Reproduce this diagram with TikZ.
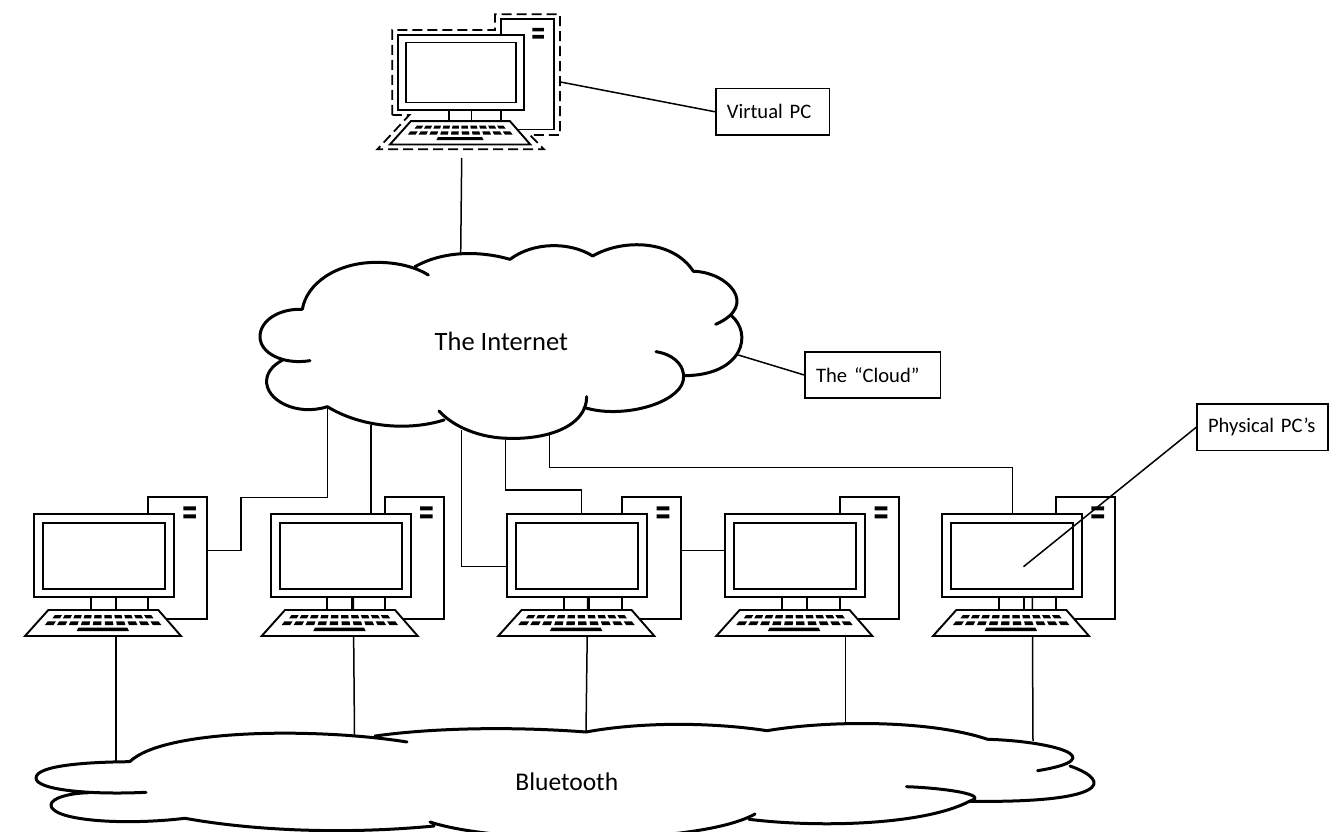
\documentclass[tikz,border=0pt]{standalone}
\usepackage{fontspec}
\setmainfont{Carlito}
\tikzset{
  wire/.style={line width=1.5pt,line join=miter},
  cloudline/.style={line width=3pt,line cap=round,line join=round},
  pcline/.style={line width=1.9pt,line join=miter},
  labelbox/.style={draw,line width=1.6pt,align=left,inner xsep=11pt,inner ysep=0pt,minimum height=46.5pt,font=\fontsize{20.6}{24}\selectfont},
  cloudtext/.style={anchor=base,inner sep=0pt,font=\fontsize{25.5}{30}\selectfont}
}
\newcommand{\pcicon}[3]{%
  \begin{scope}[shift={(#1,#2)},x=#3pt,y=-#3pt]
    \draw[pcline] (415,390) -- (415,50) -- (592,50) -- (592,418) -- (470,418);
    \fill (520,79) rectangle (558,91) (520,103) rectangle (558,115);
    \draw[pcline,fill=white] (72,103) rectangle (492,352);
    \draw[pcline] (99,128) rectangle (465,328);
    \draw[pcline] (242,352) -- (242,390) (317,352) -- (317,390) (415,352) -- (415,390);
    \draw[pcline,fill=white] (115,390) -- (445,390) -- (513,468) -- (45,468) -- cycle;
    \foreach \i in {0,...,9}{
      \pgfmathsetmacro\ua{-.81+\i*.1667}
      \pgfmathsetmacro\ub{\ua+.12}
      \pgfmathsetmacro\uc{-.85+\i*.1755}
      \pgfmathsetmacro\ud{\uc+.125}
      \fill (279+\ua*178.3,405) -- (279+\ub*178.3,405) -- (279+\ub*187.1,415) -- (279+\ua*187.1,415) -- cycle;
      \fill (279+\uc*195,424) -- (279+\ud*195,424) -- (279+\ud*204.8,435) -- (279+\uc*204.8,435) -- cycle;
    }
    \fill (205,443) -- (352,443) -- (357,453) -- (200,453) -- cycle;
  \end{scope}}
\begin{document}
\begin{tikzpicture}[x=1pt,y=-1pt]
\fill[white] (0,0) rectangle (1342,832);
\useasboundingbox (0,0) rectangle (1342,832);
\clip (0,0) rectangle (1342,832);

% connector end points
\coordinate (vpc-bottom) at (461.7,158);
\coordinate (vpc-side) at (559,81.7);
\coordinate (inet-top) at (460.7,253);
\coordinate (inet-side) at (738.3,355);
\coordinate (inet-a) at (327.3,406.7);
\coordinate (inet-b) at (371,425);
\coordinate (inet-c) at (461.5,430);
\coordinate (inet-d) at (505.7,439);
\coordinate (inet-e) at (549.3,434);
\coordinate (j1) at (241,497.7);
\coordinate (pc1-r) at (207,550.7);
\coordinate (pc2-t) at (371,514);
\coordinate (pc3-l) at (507.3,566.7);
\coordinate (j3) at (581.7,490);
\coordinate (pc3-t) at (581.7,514);
\coordinate (j5) at (1012.3,467.3);
\coordinate (pc5-t) at (1012.3,514);
\coordinate (pc3-r) at (680.7,550.7);
\coordinate (pc4-l) at (725.3,550.7);
\coordinate (pc1-b) at (116,597);
\coordinate (bt1) at (116,761.5);
\coordinate (pc2-b) at (353.3,597);
\coordinate (bt2) at (354.5,734.5);
\coordinate (pc3-b) at (587.7,597);
\coordinate (bt3) at (586,732);
\coordinate (pc4-b) at (845.5,636);
\coordinate (bt4) at (845.5,723.5);
\coordinate (pc5-b) at (1032.3,597);
\coordinate (bt5) at (1033,741);
\coordinate (phys-end) at (1023.5,566.7);

% labels
\node[labelbox,text width=91.5pt] (vpclabel) at (772.7,111.8) {Virtual PC};
\node[labelbox,text width=113.5pt] (cloudlabel) at (872.8,375) {The “Cloud”};
\node[labelbox,text width=109pt] (physlabel) at (1262.5,427.3) {Physical PC’s};
\node[cloudtext,font=\fontsize{26.5}{30}\selectfont] (inettext) at (501.3,350) {The Internet};
\node[cloudtext] (bttext) at (566.8,790) {Bluetooth};

% connectors
\draw[wire] (vpc-bottom) -- (inet-top);
\draw[wire] (vpc-side) -- (vpclabel.west);
\draw[wire] (inet-side) -- (cloudlabel.west);
\draw[wire] (inet-a) |- (j1) |- (pc1-r);
\draw[wire] (inet-b) -- (pc2-t);
\draw[wire] (inet-c) |- (pc3-l);
\draw[wire] (inet-d) |- (j3) -- (pc3-t);
\draw[wire] (inet-e) |- (j5) -- (pc5-t);
\draw[wire] (pc3-r) -- (pc4-l);
\draw[wire] (pc1-b) -- (bt1);
\draw[wire] (pc2-b) -- (bt2);
\draw[wire] (pc3-b) -- (bt3);
\draw[wire] (pc4-b) -- (bt4);
\draw[wire] (pc5-b) -- (bt5);

% Internet cloud
\begin{scope}[shift={(240,230)},x=0.33333pt,y=-0.33333pt]
\draw[cloudline]
 (187,238) .. controls (200,160) and (290,97) .. (410,97) .. controls (470,97) and (525,110) .. (565,135)
 (525,110) .. controls (610,62) and (720,62) .. (810,88)
 (810,88) .. controls (880,35) and (990,35) .. (1058,78)
 (1058,78) .. controls (1150,25) and (1300,30) .. (1360,124)
 (1360,124) .. controls (1460,125) and (1560,225) .. (1427,283)
 (1472,255) .. controls (1540,310) and (1510,435) .. (1335,437)
 (1248,365) .. controls (1315,375) and (1345,425) .. (1325,465) .. controls (1290,530) and (1130,565) .. (1032,532)
 (1040,500) .. controls (1040,590) and (920,628) .. (810,625) .. controls (720,625) and (640,590) .. (597,543)
 (612,570) .. controls (500,605) and (360,590) .. (262,530)
 (262,530) .. controls (170,560) and (75,510) .. (80,450) .. controls (82,425) and (100,405) .. (128,390)
 (210,392) .. controls (130,405) and (60,370) .. (60,320) .. controls (60,270) and (120,235) .. (187,238);
\end{scope}

% Bluetooth cloud
\draw[cloudline]
 (129.7,761.7) .. controls (165,728) and (320,728) .. (407,742)
 (375,736) .. controls (440,727) and (520,727) .. (586,732)
 (586,732) .. controls (640,722) and (710,722) .. (767,730.7)
 (767,730.7) .. controls (830,720) and (930,720) .. (987.6,739.3)
 (987.6,739.3) .. controls (1050,741) and (1115,758) .. (1037.6,770.7)
 (1070,766) .. controls (1115,782) and (1105,803) .. (970,801.3)
 (906.5,786.7) .. controls (945,788) and (990,795) .. (970,801) .. controls (925,825) and (820,828) .. (749,819.3)
 (755,814) .. controls (700,845) and (500,845) .. (430,822)
 (434,826) .. controls (340,835) and (250,830) .. (185,818.3)
 (185,818.3) .. controls (120,826) and (51,820) .. (51,805) .. controls (51,798) and (70,793) .. (89,792.7)
 (146,792.3) .. controls (90,795) and (36,790) .. (36,778) .. controls (36,765) and (90,762) .. (129.7,761.7);

% computers
\pcicon{10}{480}{0.33333}
\pcicon{246.7}{480}{0.33333}
\pcicon{483.3}{480}{0.33333}
\pcicon{701.3}{480}{0.33333}
\pcicon{918}{480}{0.33333}
\pcicon{376.4}{4.1}{0.3}

% dashed outline of the virtual PC
\begin{scope}[shift={(360,0)},x=0.33333pt,y=-0.33333pt]
\draw[line width=1.8pt,dash pattern=on 10pt off 5pt]
 (97,345) -- (97,90) -- (405,90) -- (405,43) -- (600,43) -- (600,405) -- (510,405) -- (552,448) -- (52,448) -- (148,345) -- cycle;
\end{scope}

\draw[wire] (physlabel.west) -- (phys-end);
\end{tikzpicture}
\end{document}
